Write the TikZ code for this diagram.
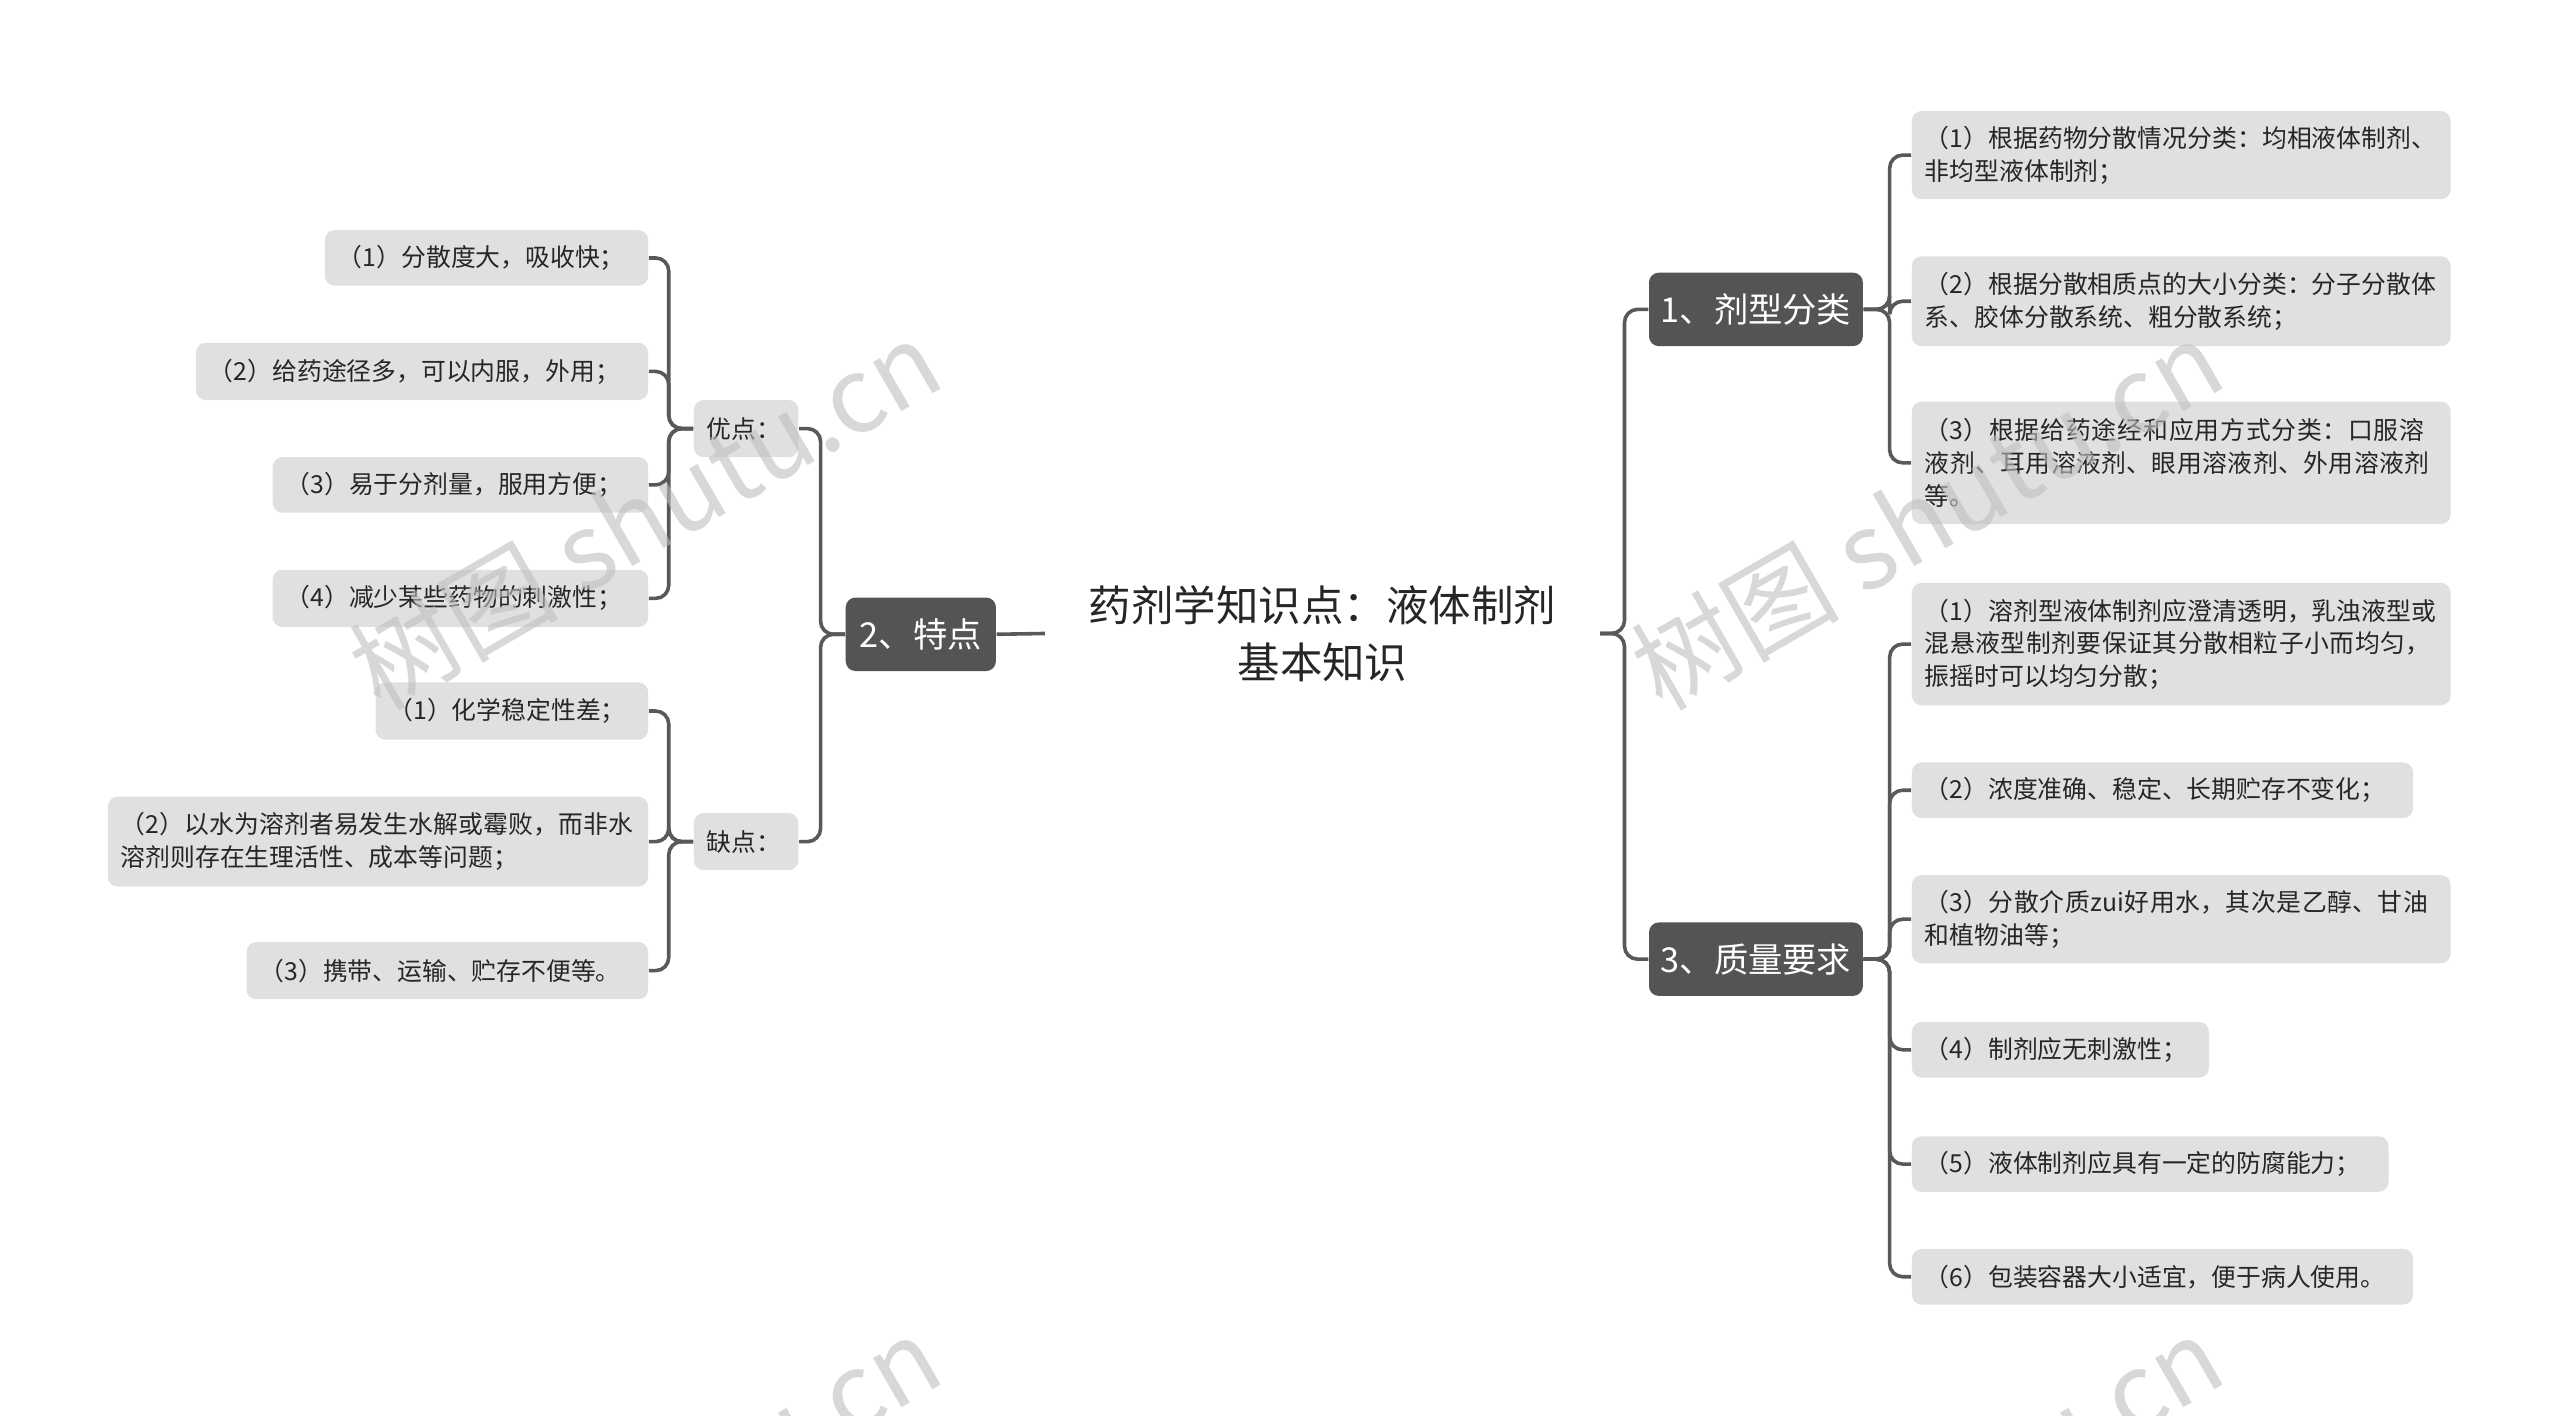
\documentclass[tikz,border=0pt]{standalone}
\usepackage{fontspec}
\setmainfont{Noto Sans CJK SC}
\XeTeXlinebreaklocale "zh"
\XeTeXlinebreakskip=0pt plus 1pt
\begin{document}
\begin{tikzpicture}[x=0.5pt,y=-0.5pt,
  conn/.style={draw=black!65,line width=1.1pt,rounded corners=4pt},
  leaf/.style={fill=black!12,rounded corners=3pt,font=\fontsize{7.6pt}{10pt}\selectfont,align=left,inner xsep=4pt,inner ysep=0pt,text=black!85},
  mid/.style={fill=black!67,rounded corners=3pt,text=white,font=\fontsize{10.5pt}{12pt}\selectfont,inner sep=0pt},
  wm/.style={text=black!25,opacity=0.6,font=\fontsize{32pt}{34pt}\selectfont,rotate=30}]
\newcommand\leafnode[6]{\node[leaf,text width=\dimexpr(#4pt-#2pt-14pt)/2\relax,minimum height={(#5-#3)*0.5pt}] (#1) at ({(#2+#4)/2},{(#3+#5)/2}) {#6};}
\newcommand\midnode[6]{\node[mid,minimum width={(#4-#2)*0.5pt},minimum height={(#5-#3)*0.5pt}] (#1) at ({(#2+#4)/2},{(#3+#5)/2}) {#6};}
\clip (0,0) rectangle (1568,867);
\fill[white] (0,0) rectangle (1568,867);
\node[font=\fontsize{13pt}{17.5pt}\selectfont,align=center,inner sep=0pt,text=black!85] (T) at (810,388) {药剂学知识点：液体制剂\\基本知识};
% right
\midnode{A}{1010}{167}{1141}{212}{1、剂型分类}
\midnode{C}{1010}{565}{1141}{610}{3、质量要求}
\midnode{B}{518}{366}{610}{411}{2、特点}
\leafnode{a1}{1172}{68}{1500}{122}{（1）根据药物分散情况分类：均相液体制剂、非均型液体制剂；}
\leafnode{a2}{1172}{157}{1500}{212}{（2）根据分散相质点的大小分类：分子分散体系、胶体分散系统、粗分散系统；}
\leafnode{a3}{1172}{246}{1500}{321}{（3）根据给药途经和应用方式分类：口服溶液剂、耳用溶液剂、眼用溶液剂、外用溶液剂等。}
\leafnode{c1}{1172}{357}{1500}{432}{（1）溶剂型液体制剂应澄清透明，乳浊液型或混悬液型制剂要保证其分散相粒子小而均匀，振摇时可以均匀分散；}
\leafnode{c2}{1172}{467}{1477}{501}{（2）浓度准确、稳定、长期贮存不变化；}
\leafnode{c3}{1172}{536}{1500}{590}{（3）分散介质zui好用水，其次是乙醇、甘油和植物油等；}
\leafnode{c4}{1172}{626}{1352}{660}{（4）制剂应无刺激性；}
\leafnode{c5}{1172}{696}{1462}{730}{（5）液体制剂应具有一定的防腐能力；}
\leafnode{c6}{1172}{765}{1477}{799}{（6）包装容器大小适宜，便于病人使用。}
% left
\leafnode{y}{426}{245}{488}{280}{优点：}
\leafnode{q}{426}{498}{488}{533}{缺点：}
\leafnode{y1}{200}{141}{396}{175}{（1）分散度大，吸收快；}
\leafnode{y2}{121}{210}{396}{245}{（2）给药途径多，可以内服，外用；}
\leafnode{y3}{168}{280}{396}{314}{（3）易于分剂量，服用方便；}
\leafnode{y4}{168}{349}{396}{384}{（4）减少某些药物的刺激性；}
\leafnode{q1}{231}{418}{396}{453}{（1）化学稳定性差；}
\leafnode{q2}{67}{488}{396}{543}{（2）以水为溶剂者易发生水解或霉败，而非水溶剂则存在生理活性、成本等问题；}
\leafnode{q3}{152}{577}{396}{612}{（3）携带、运输、贮存不便等。}
% connectors
\coordinate (TR) at (980,388);
\coordinate (TL) at (640,388);
\draw[conn] (TR) -- (995,388) |- (A.west);
\draw[conn] (TR) -- (995,388) |- (C.west);
\draw[conn] (TL) -- (B.east);
\foreach \n in {a1,a2,a3} \draw[conn] (A.east) -- ++(16,0) |- (\n.west);
\foreach \n in {c1,c2,c3,c4,c5,c6} \draw[conn] (C.east) -- ++(16,0) |- (\n.west);
\foreach \n in {y,q} \draw[conn] (B.west) -- ++(-15,0) |- (\n.east);
\foreach \n in {y1,y2,y3,y4} \draw[conn] (y.west) -- ++(-15,0) |- (\n.east);
\foreach \n in {q1,q2,q3} \draw[conn] (q.west) -- ++(-15,0) |- (\n.east);
% watermarks
\node[wm] (w1) at (395,315) {树图 shutu.cn};
\node[wm] (w2) at (1180,315) {树图 shutu.cn};
\node[wm] (w3) at (395,925) {树图 shutu.cn};
\node[wm] (w4) at (1180,925) {树图 shutu.cn};
\end{tikzpicture}
\end{document}
